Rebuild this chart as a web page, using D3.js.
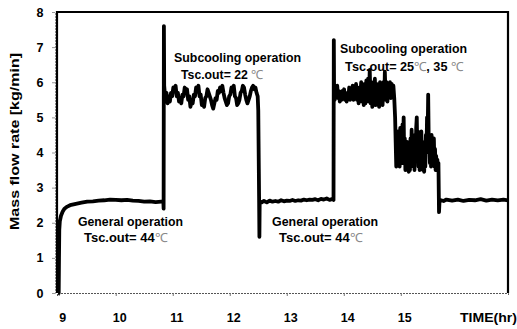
<!DOCTYPE html>
<html>
<head>
<meta charset="utf-8">
<script src="https://cdn.jsdelivr.net/npm/d3@7"></script>
<style>
  html, body { margin: 0; padding: 0; background: #fff; }
  svg { display: block; }
  text { font-family: "Liberation Sans", Arial, sans-serif; font-weight: 700; fill: #000; }
</style>
</head>
<body>
<svg id="chart" width="517" height="329"></svg>
<script>
// time [hr], mass flow rate [kg/min]
const generalStart = [
  [8.99, 0], [9.0, 0], [9.005, 1.0], [9.01, 1.8], [9.02, 2.05], [9.04, 2.2], [9.07, 2.32],
  [9.1, 2.4], [9.15, 2.46], [9.2, 2.5], [9.3, 2.54], [9.4, 2.57], [9.5, 2.6], [9.6, 2.61],
  [9.7, 2.63], [9.8, 2.64], [9.9, 2.66], [10.0, 2.65], [10.1, 2.64], [10.2, 2.65], [10.3, 2.63],
  [10.4, 2.62], [10.5, 2.6], [10.6, 2.61], [10.7, 2.59], [10.8, 2.6], [10.835, 2.62], [10.84, 2.4]
];
const subcooling22 = [
  [10.845, 7.6], [10.85, 5.9], [10.87, 5.5], [10.89, 5.7], [10.91, 5.4], [10.93, 5.6],
  [10.95, 5.45], [10.97, 5.7], [10.99, 5.6], [11.01, 5.85], [11.03, 5.75], [11.05, 5.9],
  [11.07, 5.6], [11.09, 5.7], [11.11, 5.45], [11.13, 5.55], [11.15, 5.4], [11.17, 5.65],
  [11.19, 5.6], [11.21, 5.85], [11.23, 5.75], [11.25, 5.8], [11.27, 5.5], [11.29, 5.6],
  [11.31, 5.3], [11.33, 5.45], [11.35, 5.4], [11.37, 5.65], [11.39, 5.6], [11.41, 5.85],
  [11.43, 5.8], [11.45, 5.9], [11.47, 5.6], [11.49, 5.65], [11.51, 5.35], [11.53, 5.4],
  [11.55, 5.3], [11.57, 5.55], [11.59, 5.6], [11.61, 5.8], [11.63, 5.7], [11.65, 5.6],
  [11.67, 5.5], [11.69, 5.35], [11.71, 5.25], [11.73, 5.4], [11.75, 5.55], [11.77, 5.5],
  [11.79, 5.75], [11.81, 5.7], [11.83, 5.85], [11.85, 5.75], [11.87, 5.9], [11.89, 5.7],
  [11.91, 5.55], [11.93, 5.45], [11.95, 5.35], [11.97, 5.4], [11.99, 5.6], [12.01, 5.65],
  [12.03, 5.85], [12.05, 5.8], [12.07, 5.9], [12.09, 5.6], [12.11, 5.55], [12.13, 5.35],
  [12.15, 5.4], [12.17, 5.5], [12.19, 5.7], [12.21, 5.75], [12.23, 5.9], [12.25, 5.85],
  [12.27, 5.65], [12.29, 5.5], [12.31, 5.4], [12.33, 5.5], [12.35, 5.6], [12.37, 5.75],
  [12.39, 5.85], [12.41, 5.9], [12.43, 5.8], [12.45, 5.85], [12.47, 5.7], [12.49, 5.6],
  [12.5, 5.2], [12.51, 3.5], [12.515, 2.6]
];
const generalMid = [
  [12.52, 1.6], [12.525, 2.6], [12.56, 2.58], [12.6, 2.62], [12.65, 2.58], [12.7, 2.63],
  [12.75, 2.6], [12.8, 2.62], [12.85, 2.6], [12.9, 2.64], [12.95, 2.61], [13.0, 2.63],
  [13.05, 2.62], [13.1, 2.65], [13.15, 2.62], [13.2, 2.64], [13.25, 2.63], [13.3, 2.66],
  [13.35, 2.64], [13.4, 2.66], [13.45, 2.65], [13.5, 2.67], [13.55, 2.64], [13.6, 2.68],
  [13.65, 2.66], [13.7, 2.69], [13.75, 2.65], [13.8, 2.68], [13.82, 2.65]
];
const subcooling25 = [
  [13.825, 7.2], [13.83, 5.7], [13.84, 5.5], [13.855, 5.85], [13.87, 5.6], [13.885, 5.9],
  [13.9, 5.55], [13.915, 5.75], [13.93, 5.45], [13.945, 5.7], [13.96, 5.5], [13.975, 5.75],
  [13.99, 5.6], [14.005, 5.8], [14.02, 5.5], [14.035, 5.7], [14.05, 5.45], [14.065, 5.65],
  [14.08, 5.55], [14.095, 5.85], [14.11, 5.5], [14.125, 5.8], [14.14, 5.6], [14.155, 5.9],
  [14.17, 5.5], [14.185, 5.85], [14.2, 5.55], [14.215, 5.95], [14.23, 5.5], [14.245, 5.8],
  [14.26, 5.4], [14.275, 5.85], [14.29, 5.6], [14.305, 6.0], [14.32, 5.45], [14.335, 5.9],
  [14.35, 5.35], [14.365, 5.95], [14.38, 5.4], [14.395, 6.05], [14.41, 5.5], [14.425, 6.1],
  [14.44, 5.45], [14.455, 6.35], [14.47, 5.4], [14.485, 6.0], [14.5, 5.3], [14.515, 5.95],
  [14.53, 5.45], [14.545, 6.1], [14.56, 5.35], [14.575, 5.95], [14.59, 5.4], [14.605, 5.9],
  [14.62, 5.3], [14.635, 6.0], [14.65, 5.45], [14.665, 5.9], [14.68, 5.35], [14.695, 6.0],
  [14.71, 5.5], [14.72, 6.3], [14.735, 5.5], [14.75, 6.0], [14.765, 5.45], [14.78, 5.95],
  [14.795, 5.6], [14.81, 6.0], [14.825, 5.55], [14.84, 5.95], [14.855, 5.65], [14.87, 5.9],
  [14.885, 5.55], [14.9, 5.0]
];
const subcooling35 = [
  [14.91, 4.3], [14.92, 3.6], [14.93, 4.5], [14.94, 3.7], [14.95, 4.6], [14.96, 3.8],
  [14.97, 4.4], [14.98, 3.6], [14.99, 4.7], [15.0, 3.9], [15.01, 4.5], [15.02, 3.7],
  [15.03, 4.8], [15.04, 4.2], [15.05, 5.0], [15.06, 3.8], [15.07, 4.4], [15.08, 3.5],
  [15.09, 4.2], [15.1, 3.6], [15.11, 4.3], [15.12, 3.5], [15.13, 4.1], [15.14, 3.45],
  [15.15, 4.2], [15.16, 3.5], [15.17, 4.4], [15.18, 3.7], [15.19, 4.65], [15.2, 3.9],
  [15.21, 4.5], [15.22, 3.6], [15.23, 4.2], [15.24, 3.5], [15.25, 4.4], [15.26, 3.8],
  [15.27, 4.7], [15.28, 5.0], [15.29, 4.0], [15.3, 4.6], [15.31, 3.6], [15.32, 4.3],
  [15.33, 3.5], [15.34, 4.5], [15.35, 3.7], [15.36, 4.6], [15.37, 3.8], [15.38, 4.3],
  [15.39, 3.5], [15.4, 4.1], [15.41, 3.45], [15.42, 4.2], [15.43, 3.6], [15.44, 4.5],
  [15.45, 4.0], [15.46, 5.0], [15.47, 4.4], [15.48, 5.65], [15.49, 4.3], [15.5, 4.5],
  [15.51, 3.7], [15.52, 4.4], [15.53, 3.6], [15.54, 4.5], [15.55, 3.8], [15.56, 4.3],
  [15.57, 3.7], [15.58, 4.4], [15.59, 3.6], [15.6, 4.1], [15.61, 3.5], [15.62, 3.9],
  [15.63, 3.5], [15.64, 3.8], [15.65, 3.6], [15.66, 3.7]
];
const generalEnd = [
  [15.67, 2.3], [15.68, 2.65], [15.75, 2.62], [15.8, 2.66], [15.9, 2.63], [16.0, 2.66],
  [16.1, 2.62], [16.2, 2.65], [16.3, 2.64], [16.4, 2.67], [16.5, 2.63], [16.6, 2.66],
  [16.7, 2.64], [16.8, 2.66], [16.88, 2.64]
];

const xTicks = [9, 10, 11, 12, 13, 14, 15];
const yTicks = [0, 1, 2, 3, 4, 5, 6, 7, 8];

// annotations: left anchor in data units (time, flow rate), w = printed width
const notes = [
  { t: 11.023, v: 6.58, w: 127, parts: [["Subcooling operation"]] },
  { t: 11.145, v: 6.09, w: 82, parts: [["Tsc.out= 22 "], ["℃", true]] },
  { t: 13.935, v: 6.83, w: 127, parts: [["Subcooling operation"]] },
  { t: 14.023, v: 6.32, w: 118, parts: [["Tsc.out= 25"], ["℃", true], [", 35 "], ["℃", true]] },
  { t: 9.338, v: 1.91, w: 105, parts: [["General operation"]] },
  { t: 9.444, v: 1.45, w: 83, parts: [["Tsc.out= 44"], ["℃", true]] },
  { t: 12.742, v: 1.91, w: 106, parts: [["General operation"]] },
  { t: 12.865, v: 1.45, w: 83, parts: [["Tsc.out= 44"], ["℃", true]] }
];

const svg = d3.select("#chart");
const x = d3.scaleLinear().domain([8.97, 16.88]).range([57, 508]);
const y = d3.scaleLinear().domain([0, 8]).range([293, 12]);

// axes (light dotted lines under the frame)
svg.append("g")
  .attr("transform", `translate(0,${y(0)})`)
  .call(d3.axisBottom(x).tickValues(xTicks).tickSize(3).tickFormat(""))
  .call(g => g.select(".domain").attr("stroke", "#555").attr("stroke-dasharray", "2,1"))
  .call(g => g.selectAll(".tick line").attr("stroke", "#777"));

svg.append("g")
  .attr("transform", `translate(${x.range()[0] - 2},0)`)
  .call(d3.axisLeft(y).tickValues(yTicks).tickSize(3).tickFormat(""))
  .call(g => g.select(".domain").attr("stroke", "#999").attr("stroke-dasharray", "2,1"))
  .call(g => g.selectAll(".tick line").attr("stroke", "#999"));

// frame (top, left, right are heavy)
const [x0, x1] = x.range();
const [yb, yt] = y.range();
svg.append("path")
  .attr("d", `M${x0},${yb}V${yt}H${x1}V${yb}`)
  .attr("fill", "none")
  .attr("stroke", "#000")
  .attr("stroke-width", 2.2);

// tick labels
svg.append("g").selectAll("text")
  .data(xTicks)
  .join("text")
  .attr("x", d => x(d) + 4)
  .attr("y", 321.5)
  .attr("text-anchor", "middle")
  .attr("font-size", "12.5px")
  .text(d => d);

svg.append("g").selectAll("text")
  .data(yTicks)
  .join("text")
  .attr("x", 40)
  .attr("y", d => y(d) + 4.5)
  .attr("text-anchor", "middle")
  .attr("font-size", "12.5px")
  .text(d => d);

svg.append("text")
  .attr("transform", "translate(19,141.5) rotate(-90)")
  .attr("text-anchor", "middle")
  .attr("font-size", "13px")
  .attr("textLength", 177)
  .attr("lengthAdjust", "spacingAndGlyphs")
  .text("Mass flow rate [kg/min]");

svg.append("text")
  .attr("x", 460)
  .attr("y", 321.5)
  .attr("font-size", "12px")
  .attr("textLength", 57)
  .attr("lengthAdjust", "spacingAndGlyphs")
  .text("TIME(hr)");

// the trace
const flow = [].concat(generalStart, subcooling22, generalMid, subcooling25, subcooling35, generalEnd);
svg.append("path")
  .datum(flow)
  .attr("fill", "none")
  .attr("stroke", "#000")
  .attr("stroke-width", 3.8)
  .attr("stroke-linejoin", "round")
  .attr("d", d3.line().x(d => x(d[0])).y(d => y(d[1])));

// annotations
const note = svg.append("g").selectAll("text")
  .data(notes)
  .join("text")
  .attr("x", d => x(d.t))
  .attr("y", d => y(d.v))
  .attr("font-size", "12.5px")
  .attr("textLength", d => d.w)
  .attr("lengthAdjust", "spacingAndGlyphs");

note.selectAll("tspan")
  .data(d => d.parts)
  .join("tspan")
  .attr("font-weight", p => p[1] ? 400 : 700)
  .attr("fill", p => p[1] ? "#888" : "#000")
  .text(p => p[0]);
</script>
</body>
</html>
